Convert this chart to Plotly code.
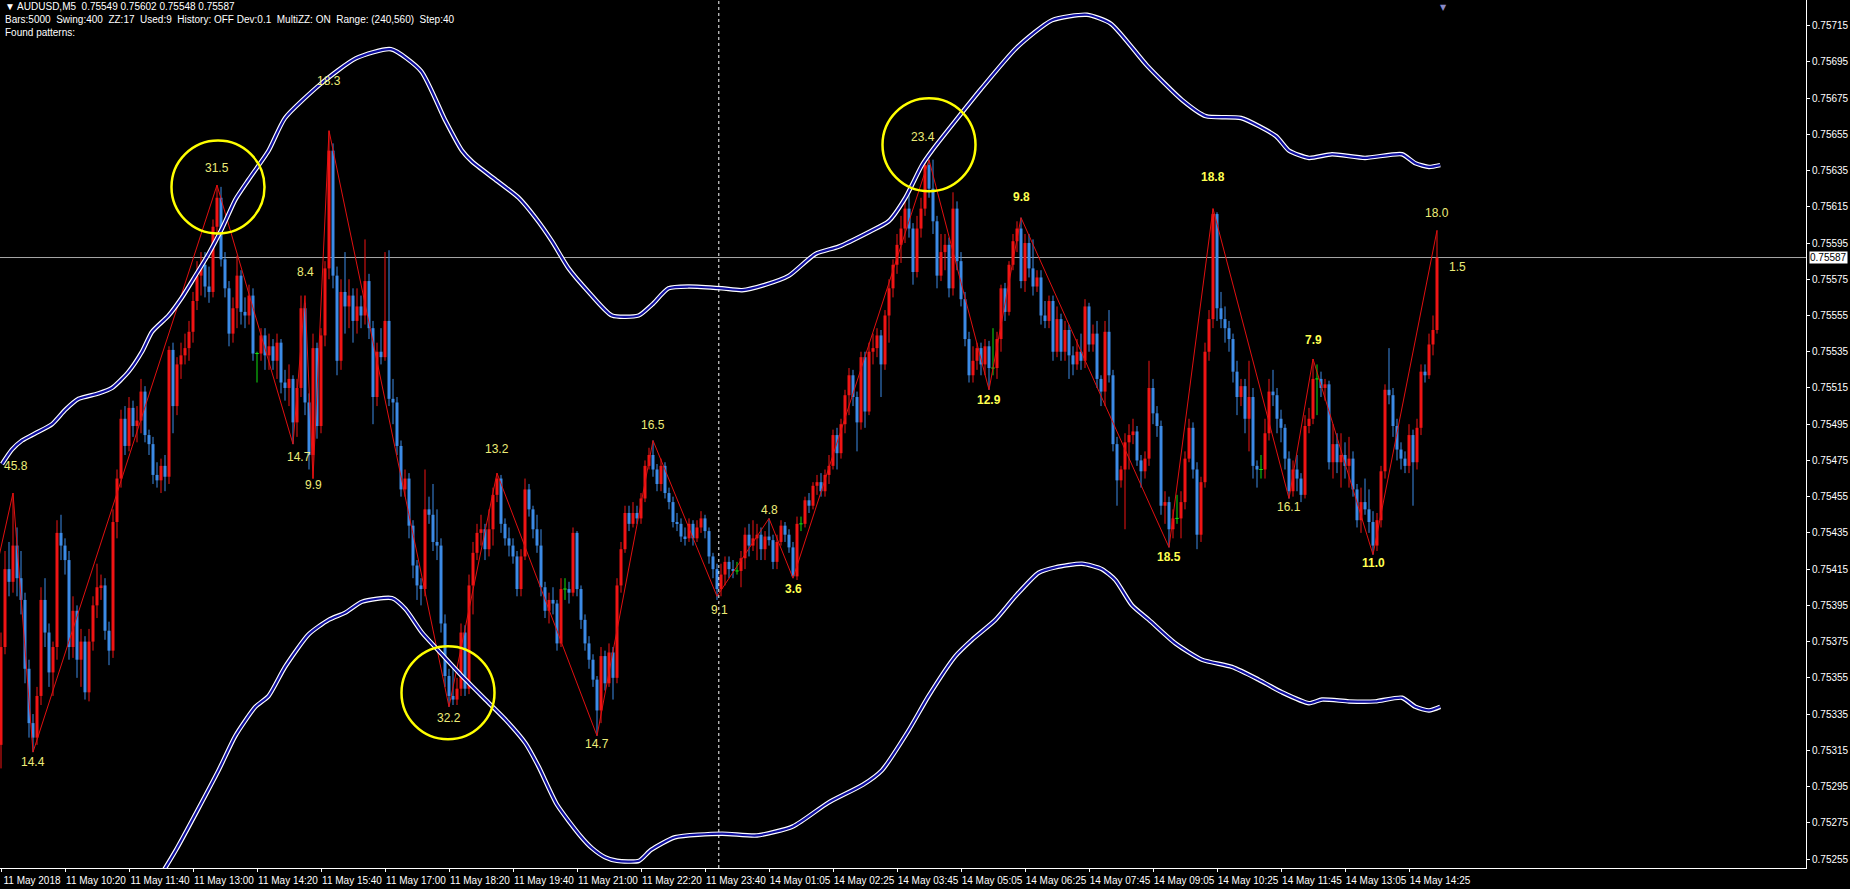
import plotly.graph_objects as go

# ---------------- data (prices in points above 0.75000, 1 point = 0.00001) ----------------
BASE = 0.75
PT = 1e-5

first_open = 318
close = [
    372, 415, 408, 428, 410, 398, 360, 330, 322, 345,
    398, 380, 358, 372, 435, 428, 420, 372, 392, 365,
    375, 347, 375, 395, 405, 406, 381, 370, 441, 465,
    498, 483, 504, 494, 497, 513, 489, 484, 467, 464,
    472, 466, 536, 505, 528, 533, 537, 546, 563, 577,
    583, 571, 568, 604, 620, 586, 570, 545, 559, 577,
    557, 555, 566, 534, 534, 544, 533, 538, 530, 540,
    518, 515, 520, 496, 515, 559, 507, 478, 537, 494,
    544, 581, 646, 577, 530, 568, 560, 566, 552, 560,
    555, 574, 548, 510, 535, 532, 552, 509, 507, 483,
    459, 465, 439, 417, 406, 404, 448, 445, 430, 428,
    385, 356, 345, 343, 349, 380, 349, 406, 424, 435,
    437, 426, 437, 456, 465, 440, 432, 428, 422, 404,
    422, 459, 448, 437, 428, 405, 392, 398, 396, 374,
    404, 404, 402, 435, 404, 387, 374, 365, 354, 337,
    367, 352, 369, 355, 406, 426, 446, 440, 446, 443,
    454, 472, 478, 470, 462, 472, 457, 452, 441, 440,
    433, 432, 440, 432, 438, 443, 436, 422, 415, 404,
    412, 419, 415, 414, 414, 421, 434, 428, 432, 434,
    426, 433, 431, 419, 430, 439, 434, 427, 411, 440,
    440, 453, 450, 461, 463, 458, 467, 472, 489, 479,
    495, 511, 522, 510, 496, 532, 502, 535, 537, 544,
    528, 555, 570, 583, 594, 603, 614, 603, 579, 603,
    614, 638, 625, 607, 577, 590, 594, 570, 614, 585,
    564, 542, 522, 530, 537, 528, 538, 526, 526, 542,
    570, 557, 583, 596, 603, 574, 595, 581, 571, 576,
    555, 552, 563, 535, 553, 535, 547, 533, 528, 535,
    530, 560, 539, 545, 520, 513, 546, 522, 484, 464,
    470, 485, 489, 491, 475, 469, 476, 515, 501, 494,
    450, 452, 437, 443, 443, 452, 476, 493, 470, 434,
    463, 535, 553, 611, 559, 553, 548, 542, 524, 510,
    516, 498, 510, 472, 470, 470, 490, 513, 511, 498,
    493, 476, 458, 470, 465, 456, 494, 498, 520, 520,
    515, 517, 474, 484, 474, 478, 472, 476, 459, 442,
    452, 448, 441, 428, 442, 469, 514, 511, 494, 481,
    476, 472, 489, 474, 493, 524, 522, 539, 547, 587,
]
high = [
    380, 425, 430, 457, 438, 425, 402, 365, 335, 350,
    405, 410, 385, 375, 442, 445, 432, 425, 400, 395,
    382, 378, 382, 400, 418, 412, 410, 386, 448, 470,
    503, 505, 510, 508, 505, 520, 516, 492, 488, 474,
    476, 478, 538, 540, 532, 540, 545, 552, 568, 585,
    590, 590, 582, 608, 627, 626, 590, 574, 565, 588,
    580, 565, 572, 570, 535, 548, 548, 545, 542, 545,
    542, 525, 528, 522, 520, 566, 562, 512, 545, 540,
    548, 585, 657, 650, 582, 575, 590, 575, 570, 570,
    566, 597, 578, 552, 540, 548, 590, 591, 520, 510,
    486, 470, 468, 442, 420, 410, 470, 455, 462, 448,
    432, 390, 360, 362, 355, 385, 384, 412, 430, 440,
    445, 440, 448, 460, 468, 467, 443, 438, 432, 425,
    426, 465, 462, 450, 445, 437, 408, 402, 405, 398,
    410, 410, 408, 438, 436, 406, 390, 378, 368, 356,
    372, 370, 374, 372, 410, 430, 450, 450, 452, 450,
    457, 475, 482, 486, 473, 476, 474, 460, 455, 446,
    443, 438, 443, 442, 442, 447, 445, 438, 424, 418,
    418, 422, 422, 420, 419, 425, 438, 440, 442, 440,
    438, 436, 443, 434, 434, 442, 441, 437, 430, 444,
    444, 455, 457, 463, 467, 468, 470, 478, 492, 493,
    498, 514, 526, 525, 513, 535, 535, 540, 545, 548,
    547, 558, 575, 586, 600, 610, 618, 625, 606, 610,
    620, 640, 641, 641, 610, 600, 600, 598, 623, 618,
    590, 568, 546, 538, 540, 540, 542, 541, 548, 546,
    572, 573, 585, 600, 607, 609, 600, 600, 597, 580,
    580, 563, 566, 566, 560, 556, 552, 550, 538, 542,
    545, 564, 562, 550, 552, 522, 552, 558, 525, 488,
    472, 490, 495, 498, 494, 478, 480, 530, 520, 505,
    497, 458, 455, 448, 456, 458, 480, 498, 496, 474,
    466, 540, 558, 614, 612, 568, 560, 552, 545, 530,
    520, 520, 530, 515, 475, 478, 498, 520, 525, 515,
    503, 495, 480, 475, 478, 468, 500, 504, 531, 528,
    524, 520, 519, 495, 490, 490, 485, 488, 480, 462,
    460, 465, 459, 447, 446, 472, 517, 537, 515, 498,
    485, 480, 495, 492, 498, 528, 528, 545, 555, 602,
]
low = [
    305, 368, 400, 402, 400, 390, 352, 322, 314, 318,
    340, 372, 350, 345, 365, 420, 412, 365, 366, 355,
    350, 343, 342, 370, 388, 398, 376, 362, 366, 432,
    460, 478, 480, 488, 485, 490, 485, 478, 462, 460,
    457, 458, 462, 490, 500, 520, 528, 530, 540, 558,
    566, 565, 562, 565, 600, 582, 565, 538, 540, 548,
    550, 548, 550, 530, 518, 530, 525, 525, 525, 520,
    512, 508, 505, 484, 488, 510, 500, 470, 465, 487,
    490, 538, 575, 570, 522, 525, 545, 548, 540, 545,
    548, 550, 542, 495, 505, 528, 530, 505, 495, 478,
    455, 455, 432, 410, 398, 395, 400, 440, 425, 420,
    380, 350, 339, 340, 340, 345, 345, 346, 390, 420,
    428, 420, 422, 428, 452, 435, 428, 422, 418, 400,
    400, 420, 444, 432, 424, 400, 388, 385, 390, 370,
    372, 398, 396, 400, 400, 382, 370, 360, 350, 323,
    330, 348, 350, 343, 352, 402, 424, 436, 438, 440,
    440, 452, 470, 466, 458, 458, 454, 448, 438, 436,
    430, 428, 430, 428, 430, 435, 432, 418, 410, 398,
    400, 406, 410, 410, 412, 405, 415, 422, 425, 420,
    420, 420, 428, 415, 415, 428, 430, 424, 410, 409,
    436, 438, 446, 448, 456, 455, 455, 462, 470, 470,
    476, 490, 500, 505, 480, 492, 493, 500, 528, 532,
    510, 525, 540, 565, 578, 584, 595, 598, 572, 576,
    598, 610, 620, 600, 570, 574, 580, 565, 566, 580,
    560, 538, 518, 518, 525, 522, 522, 514, 522, 520,
    535, 552, 555, 580, 590, 570, 568, 576, 566, 568,
    550, 548, 548, 530, 532, 530, 530, 520, 522, 525,
    525, 526, 535, 535, 515, 505, 505, 518, 480, 450,
    460, 437, 470, 484, 472, 460, 465, 472, 495, 488,
    445, 440, 427, 432, 440, 432, 448, 474, 465, 426,
    430, 460, 530, 548, 552, 548, 540, 535, 518, 500,
    505, 490, 480, 465, 460, 465, 465, 486, 505, 490,
    485, 470, 454, 455, 458, 452, 454, 490, 495, 500,
    510, 508, 470, 465, 468, 460, 465, 460, 455, 438,
    435, 445, 435, 423, 425, 438, 465, 506, 488, 475,
    470, 468, 468, 450, 470, 489, 518, 520, 533, 545,
]

time_labels = ["11 May 2018", "11 May 10:20", "11 May 11:40", "11 May 13:00", "11 May 14:20",
               "11 May 15:40", "11 May 17:00", "11 May 18:20", "11 May 19:40", "11 May 21:00",
               "11 May 22:20", "11 May 23:40", "14 May 01:05", "14 May 02:25", "14 May 03:45",
               "14 May 05:05", "14 May 06:25", "14 May 07:45", "14 May 09:05", "14 May 10:25",
               "14 May 11:45", "14 May 13:05", "14 May 14:25"]
time_label_bars = [0, 16, 32, 48, 64, 80, 96, 112, 128, 144, 160, 176, 192, 208, 224,
                   240, 256, 272, 288, 304, 320, 336, 352]

price_labels = ["0.75255", "0.75275", "0.75295", "0.75315", "0.75335", "0.75355", "0.75375",
                "0.75395", "0.75415", "0.75435", "0.75455", "0.75475", "0.75495", "0.75515",
                "0.75535", "0.75555", "0.75575", "0.75595", "0.75615", "0.75635", "0.75655",
                "0.75675", "0.75695", "0.75715"]

# zigzag swing points (bar index, points) with their labels
zz_bars = [-1, 3, 8, 54, 73, 76, 78, 82, 112, 124, 149, 163, 179, 192, 198, 232, 247, 255,
           292, 303, 322, 328, 343, 359]
zz_pts = [417, 457, 314, 627, 484, 566, 465, 657, 339, 468, 323, 486, 400, 443, 410, 641, 514,
          609, 427, 614, 454, 531, 423, 602]
zz_text = ["", "45.8", "14.4", "31.5", "14.7", "8.4", "9.9", "18.3", "32.2", "13.2", "14.7",
           "16.5", "9.1", "4.8", "3.6", "23.4", "12.9", "9.8", "18.5", "18.8", "16.1", "7.9",
           "11.0", "18.0"]
zz_bold = ["3.6", "12.9", "9.8", "18.5", "18.8", "7.9", "11.0"]

# envelope bands (bar index, points)
upper_bars = [0.25, 2.75, 5.25, 8.6, 12.75, 16.1, 19.4, 24.4, 27.75, 31.9, 35.25, 37.75, 41.9,
              45.25, 48.6, 51.9, 55.25, 58.6, 61.9, 66.9, 71, 80, 88.75, 97.5, 105, 111,
              115.25, 117.75, 123.6, 129.4, 133.6, 137.75, 141.9, 146.9, 152.75, 159.4, 162.75,
              166.9, 171.9, 180.25, 185.25, 191.1, 197, 203.6, 209.4, 216.9, 221.9, 226.1,
              230.25, 232.75, 245, 254, 262.75, 271.5, 277.5, 286.5, 295.25, 301.25, 310,
              318.75, 322, 327, 332.75, 341, 350.25, 353.6, 357, 359.8]
upper_pts = [473, 481, 486, 490, 495, 503, 509, 512, 515, 524, 535, 546, 555, 565, 577, 589,
             603, 619, 630, 646, 664, 683, 697, 702, 690, 663, 646, 640, 630, 620, 609, 596,
             581, 568, 555, 555, 561, 570, 571, 570, 569, 572, 577, 589, 593, 601, 607, 620,
             638, 646, 680, 703, 718, 721, 716, 693, 674, 665, 664, 654, 646, 642, 644, 642,
             644, 639, 637, 638]
lower_bars = [36, 43.75, 54.4, 58.6, 63.6, 66.9, 71, 76.9, 81.9, 86.1, 90.25, 97.75, 101.1,
              105.25, 109.4, 115.25, 121.1, 126.1, 131.1, 134.4, 139, 144.75, 147.75, 151, 154,
              159.5, 162.5, 168.5, 180.25, 189, 198, 206.75, 215.5, 220.25, 226.9, 231.9,
              238.6, 242.75, 248.6, 253.6, 259.4, 263.6, 270.25, 275.25, 278.6, 282.75, 287,
              293.6, 300.25, 307.75, 314.4, 320.25, 327, 330.25, 337, 343.6, 350.25, 353.6,
              357, 359.8]
lower_pts = [232, 260, 304, 323, 339, 345, 361, 379, 387, 391, 397, 399, 393, 380, 370, 356,
             343, 332, 319, 306, 285, 268, 261, 256, 254, 254, 260, 267, 269, 268, 273, 286,
             296, 304, 326, 345, 367, 376, 387, 400, 413, 416, 418, 415, 409, 395, 387, 374,
             365, 361, 354, 347, 341, 343, 342, 342, 344, 339, 337, 339]

last_price = 587
header_lines = ["\u25bc AUDUSD,M5\u00a0\u00a00.75549 0.75602 0.75548 0.75587",
                "Bars:5000\u00a0\u00a0Swing:400\u00a0\u00a0ZZ:17\u00a0\u00a0Used:9\u00a0\u00a0History: OFF Dev:0.1"
                "\u00a0\u00a0MultiZZ: ON\u00a0\u00a0Range: (240,560)\u00a0\u00a0Step:40",
                "Found patterns:"]

# ---------------- styling ----------------
RED = "#f01414"
BLUE = "#3d8be6"
GREEN = "#10e010"
FONT = "Liberation Sans, Arial, sans-serif"


def P(v):
    return BASE + v * PT


opens = [first_open] + close[:-1]
idx = list(range(len(close)))

fig = go.Figure()

groups = {"up": ([], [], [], [], []), "down": ([], [], [], [], []), "doji": ([], [], [], [], [])}
for i, o, h, l, c in zip(idx, opens, high, low, close):
    key = "up" if c > o else ("down" if c < o else "doji")
    bx, bb, bh, wx, wy = groups[key]
    bx.append(i)
    bb.append(P(min(o, c)))
    bh.append(abs(c - o) * PT)
    wx.extend([i, i, None])
    wy.extend([P(h), P(l), None])

for key, col in (("up", RED), ("down", BLUE), ("doji", GREEN)):
    bx, bb, bh, wx, wy = groups[key]
    fig.add_trace(go.Scatter(x=wx, y=wy, mode="lines", line=dict(color=col, width=1),
                             hoverinfo="skip", showlegend=False))
    if key != "doji":
        fig.add_trace(go.Bar(x=bx, y=bh, base=bb, width=0.75,
                             marker=dict(color=col, line=dict(width=0)),
                             hoverinfo="skip", showlegend=False))
    else:
        dx, dy = [], []
        for x, b in zip(bx, bb):
            dx.extend([x - 0.45, x + 0.45, None])
            dy.extend([b, b, None])
        fig.add_trace(go.Scatter(x=dx, y=dy, mode="lines", line=dict(color=col, width=1),
                                 hoverinfo="skip", showlegend=False))

# zigzag
fig.add_trace(go.Scatter(x=zz_bars, y=[P(v) for v in zz_pts], mode="lines",
                         line=dict(color="#e01010", width=1), hoverinfo="skip", showlegend=False))

# bands: white outline + dark blue core
for bars, pts in ((upper_bars, upper_pts), (lower_bars, lower_pts)):
    ys = [P(v) for v in pts]
    fig.add_trace(go.Scatter(x=bars, y=ys, mode="lines",
                             line=dict(color="#ffffff", width=4.5, shape="spline", smoothing=0.6),
                             hoverinfo="skip", showlegend=False))
    fig.add_trace(go.Scatter(x=bars, y=ys, mode="lines",
                             line=dict(color="#0c0c9c", width=2.2, shape="spline", smoothing=0.6),
                             hoverinfo="skip", showlegend=False))

# zigzag labels (pixel offsets from the swing point)
label_dy = {1: 27, 2: -10, 3: 17, 4: -13, 5: 24, 6: -6, 7: 50, 8: -11, 9: 24, 10: -8, 11: 16,
            12: -14, 13: 8, 14: -11, 15: 23, 16: -10, 17: 21, 18: -10, 19: 32, 20: -9, 21: 19,
            22: -8, 23: 17}
label_dx = {1: 3, 4: 6, 15: -6, 12: 2}
annotations = []
for k, (b, v, t) in enumerate(zip(zz_bars, zz_pts, zz_text)):
    if not t:
        continue
    bold = t in zz_bold
    annotations.append(dict(
        x=b, y=P(v), xref="x", yref="y", text=("<b>%s</b>" % t) if bold else t,
        showarrow=False, xanchor="center", yanchor="middle",
        yshift=label_dy.get(k, 0), xshift=label_dx.get(k, 0),
        font=dict(family=FONT, size=12, color="#ffff50" if bold else "#ecec78")))
annotations.append(dict(x=364, y=P(582), xref="x", yref="y", text="1.5", showarrow=False,
                        xanchor="center", yanchor="middle",
                        font=dict(family=FONT, size=12, color="#ecec78")))

# header
for n, line in enumerate(header_lines):
    annotations.append(dict(x=0, y=1, xref="paper", yref="paper", text=line, showarrow=False,
                            xanchor="left", yanchor="middle", xshift=3, yshift=-6 - 13 * n,
                            font=dict(family=FONT, size=10, color="#ffffff")))
# current price box on the axis
annotations.append(dict(x=1, y=P(last_price), xref="paper", yref="y", text="0.75587",
                        showarrow=False, xanchor="left", yanchor="middle", xshift=3,
                        bgcolor="#ffffff", borderpad=0,
                        font=dict(family=FONT, size=10, color="#000000")))
# small arrow marker at top
annotations.append(dict(x=360.5, y=1, xref="x", yref="paper", text="\u25bc", showarrow=False,
                        xanchor="center", yanchor="top", yshift=-1,
                        font=dict(family="DejaVu Sans", size=8, color="#8a8ac8")))

shapes = [
    dict(type="line", xref="paper", yref="y", x0=0, x1=1, y0=P(last_price), y1=P(last_price),
         line=dict(color="#a8a8a8", width=1), layer="below"),
    dict(type="line", xref="x", yref="paper", x0=179.45, x1=179.45, y0=0, y1=1,
         line=dict(color="#ffffff", width=1, dash="dot")),
]
# yellow circles around three swing points (pixel size, anchored on the swing point)
for k, dxp, dyp in ((3, 1, -2), (8, -1, 14), (15, 0, 15)):
    shapes.append(dict(type="circle", xref="x", yref="y", xsizemode="pixel", ysizemode="pixel",
                       xanchor=zz_bars[k], yanchor=P(zz_pts[k]),
                       x0=dxp - 46.5, x1=dxp + 46.5, y0=dyp - 46.5, y1=dyp + 46.5,
                       line=dict(color="#ffff00", width=2.5)))

fig.update_layout(
    width=1850, height=889,
    paper_bgcolor="#000000", plot_bgcolor="#000000",
    margin=dict(l=0, r=44, t=0, b=21, autoexpand=False),
    barmode="overlay", showlegend=False,
    annotations=annotations, shapes=shapes,
    xaxis=dict(range=[-0.25, 451.25], showgrid=False, zeroline=False, showline=True,
               linecolor="#ffffff", linewidth=1, ticks="outside", ticklen=3,
               tickcolor="#ffffff", tickvals=time_label_bars, ticktext=time_labels,
               ticklabelshift=31, tickfont=dict(family=FONT, size=10, color="#ffffff"),
               fixedrange=True),
    yaxis=dict(range=[0.7525003, 0.7572915], side="right", showgrid=False, zeroline=False,
               showline=True, linecolor="#ffffff", linewidth=1, ticks="outside", ticklen=3,
               tickcolor="#ffffff", tickvals=[float(s) for s in price_labels],
               ticktext=price_labels, tickfont=dict(family=FONT, size=10, color="#ffffff"),
               fixedrange=True),
)

fig.write_html("out.html", config={"displayModeBar": False},
               post_script="document.body.style.margin='0';document.body.style.overflow='hidden';")
